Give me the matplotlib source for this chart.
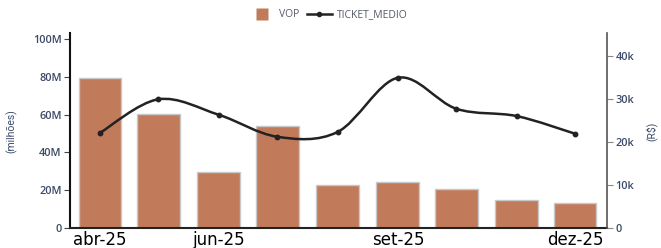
import numpy as np
import pandas as pd
import matplotlib
matplotlib.use("Agg")
import matplotlib.pyplot as plt
import matplotlib.dates as mdates
from matplotlib.path import Path
from matplotlib.patches import PathPatch
from matplotlib.lines import Line2D
from matplotlib.ticker import FuncFormatter

months = ["2025-04-01", "2025-05-01", "2025-06-01", "2025-07-01", "2025-08-01",
          "2025-09-01", "2025-10-01", "2025-11-01", "2025-12-01"]
vop = [79.5e6, 60.4e6, 29.7e6, 54.0e6, 22.8e6, 24.4e6, 20.7e6, 14.8e6, 13.2e6]
ticket = [22.1e3, 29.9e3, 26.3e3, 21.2e3, 22.3e3, 34.9e3, 27.7e3, 26.0e3, 21.9e3]
tick_dates = ["2025-04-01", "2025-06-01", "2025-09-01", "2025-12-01"]
tick_labels = ["abr-25", "jun-25", "set-25", "dez-25"]

BAR = "#c27b5a"
LINE = "#222222"
TXT = "#3b4a66"

plt.rcParams["font.family"] = ["Open Sans", "DejaVu Sans"]


def fmt_m(v, pos):
    return "0" if v == 0 else f"{int(v / 1e6)}M"


def fmt_k(v, pos):
    return "0" if v == 0 else f"{int(v / 1e3)}k"


def spline_path(x, y):
    # smooth curve through the points (cubic bezier, catmull-rom style)
    pts = np.column_stack([x, y])
    verts = [pts[0]]
    codes = [Path.MOVETO]
    n = len(pts)
    for i in range(n - 1):
        p0 = pts[max(i - 1, 0)]
        p1 = pts[i]
        p2 = pts[i + 1]
        p3 = pts[min(i + 2, n - 1)]
        c1 = p1 + (p2 - p0) / 6
        c2 = p2 - (p3 - p1) / 6
        verts += [c1, c2, p2]
        codes += [Path.CURVE4] * 3
    return Path(verts, codes)


x = mdates.date2num(pd.to_datetime(months))

fig = plt.figure(figsize=(6.61, 2.48), dpi=100)
ax = fig.add_axes([0.1059, 0.0806, 0.8124, 0.7864])
ax2 = ax.twinx()

ax.bar(x, vop, width=22, color=BAR, edgecolor="#c8c8c8", linewidth=1.0, zorder=2)

ax2.add_patch(PathPatch(spline_path(x, ticket), facecolor="none",
                        edgecolor=LINE, linewidth=1.8, zorder=3))
ax2.plot(x, ticket, linestyle="none", marker="o", markersize=3.2, color=LINE, zorder=4)

ax.set_xlim(x[0] - 15.4, x[-1] + 16.4)
ax.set_ylim(0, 103.3e6)
ax2.set_ylim(0, 45.3e3)
ax.set_yticks([0, 20e6, 40e6, 60e6, 80e6, 100e6])
ax2.set_yticks([0, 10e3, 20e3, 30e3, 40e3])
ax.yaxis.set_major_formatter(FuncFormatter(fmt_m))
ax2.yaxis.set_major_formatter(FuncFormatter(fmt_k))

ax.set_xticks(mdates.date2num(pd.to_datetime(tick_dates)))
ax.set_xticklabels(tick_labels, fontsize=12, color="black", family="DejaVu Sans")
ax.tick_params(axis="x", length=0, pad=2)
ax.tick_params(axis="y", labelsize=7.8, labelcolor=TXT, color="#444444", length=4, pad=2)
ax2.tick_params(axis="y", labelsize=7.8, labelcolor=TXT, color="#888888", length=4, pad=2)
for lab in ax.get_yticklabels() + ax2.get_yticklabels():
    lab.set_fontweight("semibold")

for a in (ax, ax2):
    a.spines["top"].set_visible(False)
ax.spines["left"].set_color("#111111")
ax.spines["left"].set_linewidth(1.5)
ax.spines["bottom"].set_color("#222222")
ax.spines["bottom"].set_linewidth(1.5)
ax.spines["right"].set_visible(False)
ax2.spines["left"].set_visible(False)
ax2.spines["bottom"].set_visible(False)
ax2.spines["right"].set_color("#555555")
ax2.spines["right"].set_linewidth(1.2)

fig.text(0.018, 0.47, "(milhões)", rotation=90, ha="center", va="center",
         fontsize=7.5, color=TXT, family=["Liberation Sans Narrow", "Roboto"])
fig.text(0.985, 0.47, "(R$)", rotation=90, ha="center", va="center",
         fontsize=7.5, color=TXT, family=["Liberation Sans Narrow", "Roboto"])

handles = [Line2D([0], [0], linestyle="none", marker="s", markersize=8,
                  markerfacecolor=BAR, markeredgecolor="none"),
           Line2D([0], [0], color=LINE, linewidth=1.8, marker="o", markersize=3)]
fig.legend(handles, ["VOP", "TICKET_MEDIO"], loc="upper center", bbox_to_anchor=(0.497, 1.0),
           ncol=2, frameon=False, fontsize=7.5, labelcolor="#555b66", handlelength=2.4,
           columnspacing=0.7, handletextpad=0.5)

fig.savefig("out.png", dpi=100)
